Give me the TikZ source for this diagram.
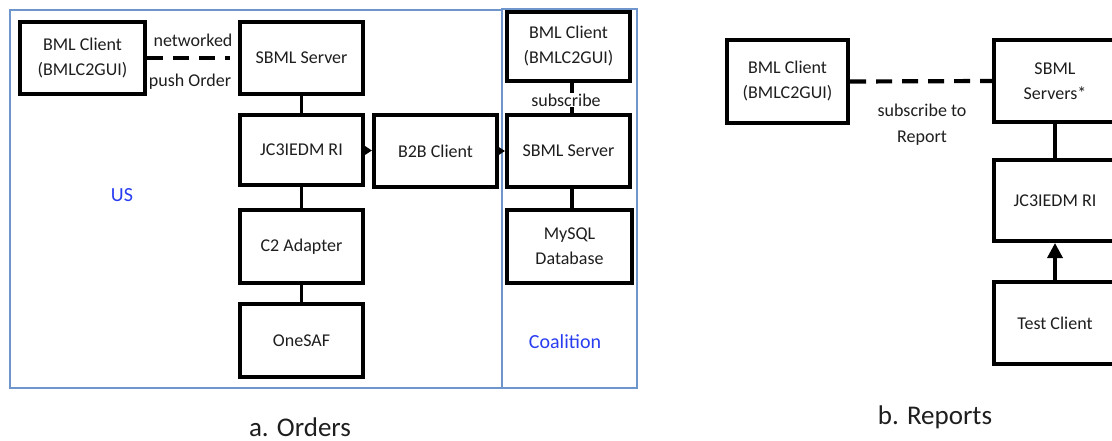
\documentclass[tikz,border=0pt]{standalone}
\usepackage{fontspec}
\setmainfont{Carlito}
\usetikzlibrary{arrows.meta}
\definecolor{txt}{RGB}{30,30,30}
\definecolor{framec}{RGB}{110,150,205}
\definecolor{lblc}{RGB}{40,60,240}
\begin{document}
\begin{tikzpicture}[x=1pt,y=-1pt,
  box/.style={draw=black, line width=4pt, fill=white, text=txt, align=center,
    font=\fontsize{18}{25}\selectfont, inner sep=0pt, minimum width=123pt, minimum height=72pt},
  conn/.style={line width=3.4pt, draw=black},
  smallarrow/.style={conn, -{Triangle[length=9pt,width=11pt]}},
  bigarrow/.style={conn, -{Triangle[length=15pt,width=15pt]}},
  dashconn/.style={line width=4.2pt, draw=black, dash pattern=on 16pt off 10pt},
  lbl/.style={text=txt, font=\fontsize{18}{26}\selectfont, align=center, inner sep=0pt},
  region/.style={text=lblc, font=\fontsize{20}{24}\selectfont, inner sep=0pt},
  caption/.style={text=txt, font=\fontsize{27}{30}\selectfont, inner sep=0pt},
  framebox/.style={draw=framec, line width=1.8pt}]
\useasboundingbox (0,0) rectangle (1112,441);

% frames
\draw[framebox] (10,10) rectangle (502,388);
\draw[framebox] (502,9) rectangle (637,388);

% panel a
\node[box, minimum width=125pt] (abml) at (82.5,58) {BML Client\\(BMLC2GUI)};
\node[box] (asbml) at (301.5,58) {SBML Server};
\node[box, minimum height=70pt] (ajc) at (301.5,150) {JC3IEDM RI};
\node[box, minimum height=73pt] (ac2) at (301.5,246.5) {C2 Adapter};
\node[box, minimum height=73pt] (aone) at (301.5,340.5) {OneSAF};
\node[box] (ab2b) at (435.5,151) {B2B Client};
\node[box, minimum height=69pt] (cbml) at (568.5,46.5) {BML Client\\(BMLC2GUI)};
\node[box] (csbml) at (568.5,151) {SBML Server};
\node[box, minimum width=125pt, minimum height=73pt] (cmysql) at (569.5,246.5) {MySQL\\Database};

\draw[dashconn] (abml.east) -- ([xshift=-8pt]asbml.west);
\node[lbl] (lnet) at (193,40) {networked};
\node[lbl] (lpush) at (190,82) {push Order};
\draw[conn] (asbml) -- (ajc);
\draw[conn] (ajc) -- (ac2);
\draw[conn] (ac2) -- (aone);
\draw[smallarrow] (ajc) -- (ab2b);
\draw[smallarrow] (ab2b) -- (csbml);
\draw[conn] ([xshift=3.5pt]cbml.south) -- ([xshift=3.5pt]csbml.north);
\node[lbl, fill=white, inner ysep=1pt] (lsub) at (566,100) {subscribe};
\draw[conn] ([xshift=3.5pt]csbml.south) -- ([xshift=3.5pt]csbml.south |- cmysql.north);
\node[region] (lus) at (122,195) {US};
\node[region] (lcoal) at (565,342) {Coalition};
\node[caption] (capa) at (300,427) {a. Orders};

% panel b
\node[box, minimum width=121pt, minimum height=83pt] (bbml) at (787.5,81.5) {BML Client\\(BMLC2GUI)};
\node[box, minimum width=122pt, minimum height=82pt] (bsbml) at (1055,81) {SBML\\Servers*};
\node[box, minimum width=122pt, minimum height=81pt] (bjc) at (1055,200.5) {JC3IEDM RI};
\node[box, minimum width=122pt, minimum height=82pt] (btest) at (1055,323) {Test Client};
\draw[dashconn] (bbml.east) -- (bsbml.west);
\node[lbl] (lsubr) at (922,125) {subscribe to\\Report};
\draw[conn] (bsbml) -- (bjc);
\draw[bigarrow] (btest) -- (bjc);
\node[caption] (capb) at (935,417) {b. Reports};
\end{tikzpicture}
\end{document}
